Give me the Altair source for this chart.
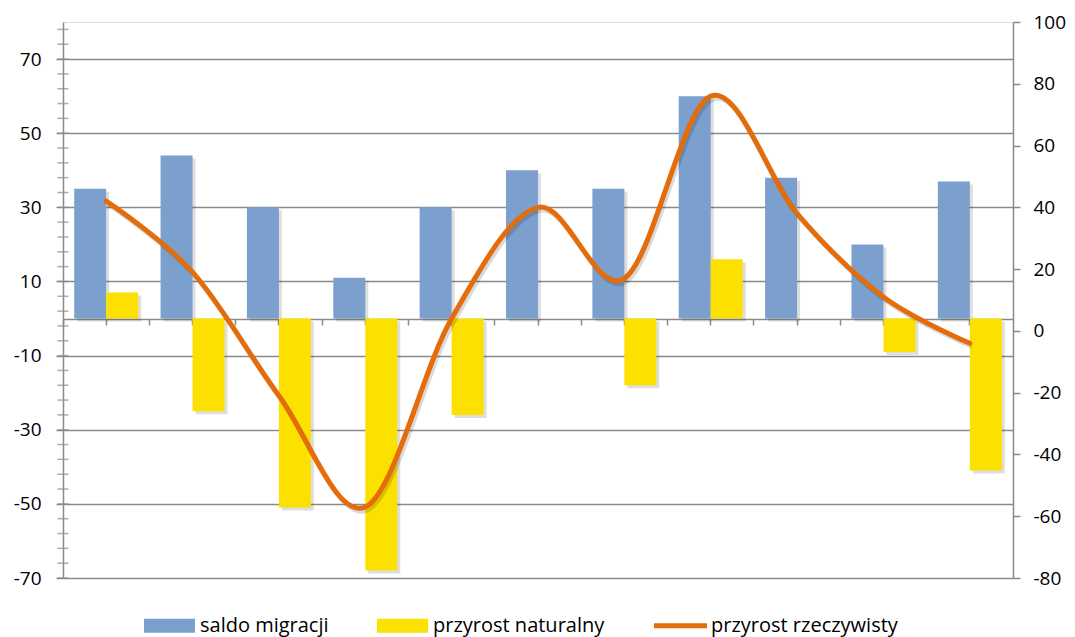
import altair as alt
import pandas as pd

categories = ["1", "2", "3", "4", "5", "6", "7", "8", "9", "10", "11"]
saldo_migracji = [35, 44, 30, 11, 30, 40, 35, 60, 38, 20, 37]
przyrost_naturalny = [7, -25, -51, -68, -26, 0, -18, 16, 0, -9, -41]
przyrost_rzeczywisty = [42, 19, -21, -57, 4, 40, 17, 76, 38, 11, -4]

series_names = ["saldo migracji", "przyrost naturalny", "przyrost rzeczywisty"]
series_colors = ["#7BA0CD", "#FCE000", "#E46C0A"]

left_labels = [-70, -50, -30, -10, 10, 30, 50, 70]
right_labels = [-80, -60, -40, -20, 0, 20, 40, 60, 80, 100]
minor_ticks = list(range(-70, 80, 4))

FONT = "Open Sans"
GRAY = "#8A8A8A"
W, H = 950, 556
BAND = W / len(categories)

bars_df = pd.DataFrame(
    [{"cat": c, "series": series_names[0], "value": v} for c, v in zip(categories, saldo_migracji)]
    + [{"cat": c, "series": series_names[1], "value": v} for c, v in zip(categories, przyrost_naturalny)]
)
line_df = pd.DataFrame(
    {"cat": categories, "series": series_names[2], "value": przyrost_rzeczywisty}
)
minor_df = pd.DataFrame({"v": minor_ticks})

left_scale = alt.Scale(domain=[-70, 80], nice=False, zero=False)
right_scale = alt.Scale(domain=[-80, 100], nice=False, zero=False)
x_scale = alt.Scale(paddingInner=0, paddingOuter=0)
off_scale = alt.Scale(domain=series_names[:2], paddingInner=0, paddingOuter=0.35)
shadow_off_scale = alt.Scale(domain=series_names[:2], paddingInner=0, paddingOuter=0.35,
                             range=[3, BAND + 3])
color_scale = alt.Scale(domain=series_names, range=series_colors)

x_axis_centers = alt.Axis(
    orient="bottom", offset=-259, labels=False, title=None, grid=False,
    domain=True, domainColor=GRAY, domainWidth=1.5,
    ticks=True, tickColor=GRAY, tickWidth=1.5, tickSize=6,
)
x_axis_bounds = alt.Axis(
    orient="bottom", offset=-259, labels=False, title=None, grid=False,
    domain=False, ticks=True, tickColor=GRAY, tickWidth=1.5, tickSize=6,
    bandPosition=0,
)
left_axis = alt.Axis(
    values=left_labels, title=None, orient="left", labelExpr="'' + datum.value",
    grid=True, gridColor=GRAY, gridWidth=1.5,
    domain=True, domainColor=GRAY, domainWidth=1.5,
    ticks=True, tickColor=GRAY, tickWidth=1.5, tickSize=7,
    labelFont=FONT, labelFontSize=19, labelColor="#000000", labelPadding=15,
)
right_axis = alt.Axis(
    values=right_labels, title=None, orient="right", labelExpr="'' + datum.value", grid=False,
    domain=True, domainColor=GRAY, domainWidth=1.5,
    ticks=True, tickColor=GRAY, tickWidth=1.5, tickSize=7,
    labelFont=FONT, labelFontSize=19, labelColor="#000000", labelPadding=13,
)

legend = alt.Legend(
    title=None, orient="none", direction="horizontal", legendX=81, legendY=578,
    labelFont=FONT, labelFontSize=20, labelColor="#000000", labelOffset=5, labelLimit=400,
    columnPadding=48, symbolSize=2601, symbolStrokeWidth=0, symbolOpacity=1,
    symbolType={"expr": "datum.value == 'przyrost rzeczywisty' ? 'M-1.04,-0.1L1.04,-0.1L1.04,0.1L-1.04,0.1Z' : 'M-1,-0.275L1,-0.275L1,0.275L-1,0.275Z'"},
)

bar_shadow = alt.Chart(bars_df).mark_bar(color="#000000", opacity=0.13, yOffset=3).encode(
    x=alt.X("cat:N", sort=categories, scale=x_scale, axis=x_axis_centers),
    xOffset=alt.XOffset("series:N", scale=shadow_off_scale),
    y=alt.Y("value:Q", scale=left_scale, axis=left_axis),
)

bars = alt.Chart(bars_df).mark_bar().encode(
    x=alt.X("cat:N", sort=categories, scale=x_scale, axis=x_axis_centers),
    xOffset=alt.XOffset("series:N", scale=off_scale),
    y=alt.Y("value:Q", scale=left_scale, axis=left_axis),
    color=alt.Color("series:N", scale=color_scale, legend=legend),
)

minor = alt.Chart(minor_df).mark_tick(color=GRAY, thickness=1.5, size=11, orient="horizontal").encode(
    y=alt.Y("v:Q", scale=left_scale, axis=left_axis),
    x=alt.value(0),
)

left_group = alt.layer(bar_shadow, bars, minor).resolve_scale(xOffset="independent")

line_shadow = alt.Chart(line_df).mark_line(
    interpolate="cardinal", color="#000000", opacity=0.15, strokeWidth=5, xOffset=2, yOffset=3
).encode(
    x=alt.X("cat:N", sort=categories, scale=x_scale, axis=x_axis_bounds),
    y=alt.Y("value:Q", scale=right_scale, axis=right_axis),
)

line = alt.Chart(line_df).mark_line(
    interpolate="cardinal", strokeWidth=5, strokeCap="round", strokeJoin="round"
).encode(
    x=alt.X("cat:N", sort=categories, scale=x_scale, axis=x_axis_bounds),
    y=alt.Y("value:Q", scale=right_scale, axis=right_axis),
    color=alt.Color("series:N", scale=color_scale, legend=legend),
)

right_group = alt.layer(line_shadow, line)

chart = (
    alt.layer(left_group, right_group)
    .resolve_scale(y="independent")
    .resolve_axis(x="independent")
    .properties(
        width=W, height=H,
        autosize=alt.AutoSizeParams(type="none"),
        padding={"left": 55, "top": 14, "right": 54, "bottom": 64},
    )
    .configure_view(strokeWidth=0, stroke="transparent")
    .configure(background="white")
)

chart.save("out.html", embed_options={"renderer": "svg", "actions": False})
